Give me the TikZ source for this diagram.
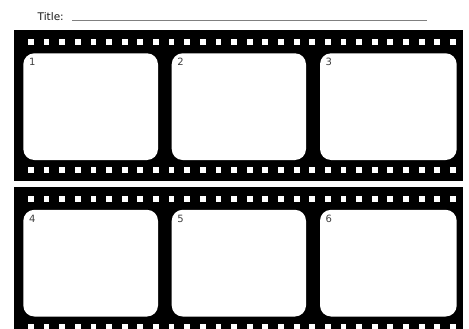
\documentclass[tikz,border=0pt]{standalone}
\usepackage{fontspec}
\setmainfont{DejaVu Sans}
\begin{document}
\begin{tikzpicture}[
  x=1pt, y=-1pt,
  film/.style={fill=black},
  frame/.style={fill=white, rounded corners=11pt},
  hole/.style={fill=white},
  numlabel/.style={font=\fontsize{10}{12}\selectfont, text=black!75,
    inner sep=0pt, anchor=base west},
  titleline/.style={draw=black!50, line width=1pt},
]

% Geometry (pixels of the sheet, y grows downward)
\def\W{469}            % sheet width
\def\H{329}            % sheet height
\def\holeW{5.8}        % sprocket hole size
\def\holeStep{15.63}   % hole pitch

\useasboundingbox (0,0) rectangle (\W,\H);
\clip (0,0) rectangle (\W,\H);

% ── Title with its writing line ─────────────────────────────────────────
\node[font=\fontsize{10.5}{12}\selectfont, text=black!90, inner sep=0pt,
  anchor=base west] (title) at (37.5,20.7) {Title:};
\coordinate (linestart) at (72,20.5);
\coordinate (lineend) at (427,20.5);
\draw[titleline] (linestart) -- (lineend);

% ── Two film strips ─────────────────────────────────────────────────────
% Each entry: strip top, strip bottom, first frame number
\foreach \st/\sb/\n in {30/180.5/1, 186.5/337/4} {
  % black band
  \fill[film] (14,\st) rectangle (463,\sb);

  % sprocket holes, one row above and one below the frames
  \foreach \i in {0,...,27} {
    \pgfmathsetmacro\hx{28 + \i*\holeStep}
    \fill[hole] (\hx,\st+9.2) rectangle ++(\holeW,\holeW);
    \fill[hole] (\hx,\st+137.2) rectangle ++(\holeW,\holeW);
  }

  % three frames, each with its number in the corner
  \foreach \k/\fl/\fr in {0/23.3/158, 1/171.7/306, 2/320/456.7} {
    \pgfmathtruncatemacro\m{\n+\k}
    \fill[frame] (\fl,\st+23.3) rectangle (\fr,\st+130);
    \node[numlabel] (num\m) at (\fl+5.5,\st+35.5) {\m};
  }
}

\end{tikzpicture}
\end{document}
